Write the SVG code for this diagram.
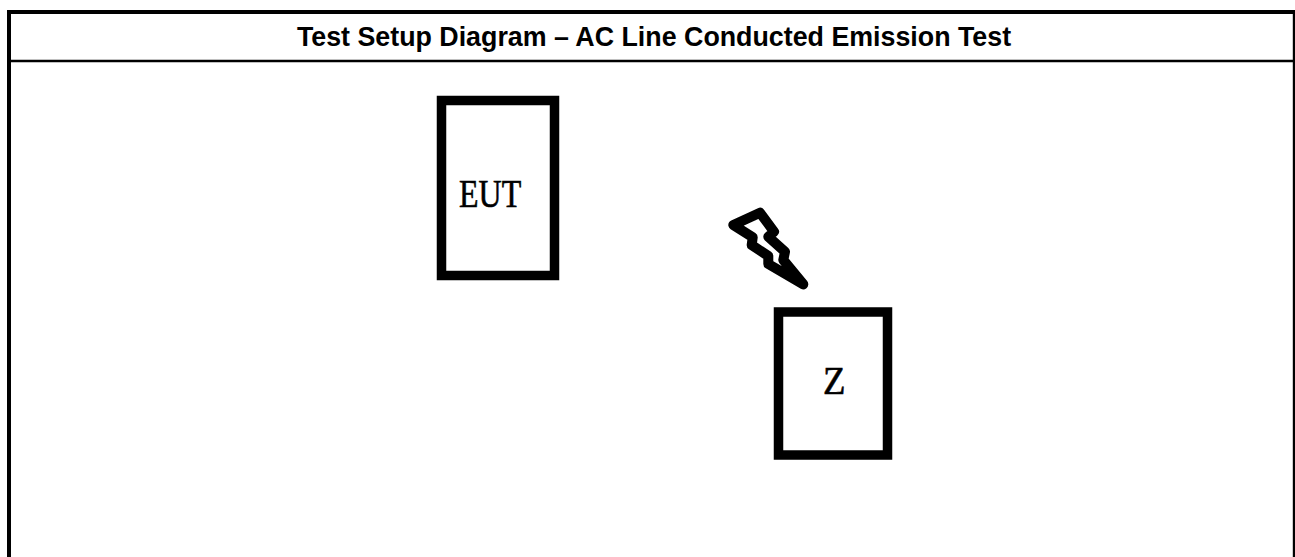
<svg xmlns="http://www.w3.org/2000/svg" width="1295" height="557" viewBox="0 0 1295 557">
<style>
.frame{fill:none;stroke:#000;stroke-width:4}
.box{fill:#fff;stroke:#000;stroke-width:9.5}
.label{font-family:"Liberation Serif","Times New Roman",serif;font-size:32px;fill:#000;stroke:#000;stroke-width:.5}
.title{font-family:"Liberation Sans",Arial,sans-serif;font-size:26.8px;font-weight:bold;fill:#000;text-anchor:middle}
</style>
<rect width="1295" height="557" fill="#fff"/>
<g id="frame">
<path class="frame" d="M9 557V12H1295"/>
<path d="M1294 10V557" stroke="#000" stroke-width="2.4" fill="none"/>
<path d="M9 61H1295" stroke="#000" stroke-width="2.4" fill="none"/>
<text class="title" x="654" y="45.5">Test Setup Diagram – AC Line Conducted Emission Test</text>
</g>
<g id="eut">
<rect class="box" x="441.5" y="100.5" width="113" height="175"/>
<text class="label" transform="translate(459 207) scale(1 1.26)">EUT</text>
</g>
<g id="z">
<rect class="box" x="778.5" y="312" width="109" height="143"/>
<text class="label" transform="translate(823 394) scale(1.15 1.26)">Z</text>
</g>
<g id="lightning">
<path d="M733.3 225L760 212.7L774 231.7L768.3 236.7L785 251.7L783.3 260L803.3 284.3L768.3 264L768.3 256L751.7 245L752.7 237.3Z" fill="#fff" stroke="#000" stroke-width="10" stroke-linejoin="round"/>
</g>
</svg>
